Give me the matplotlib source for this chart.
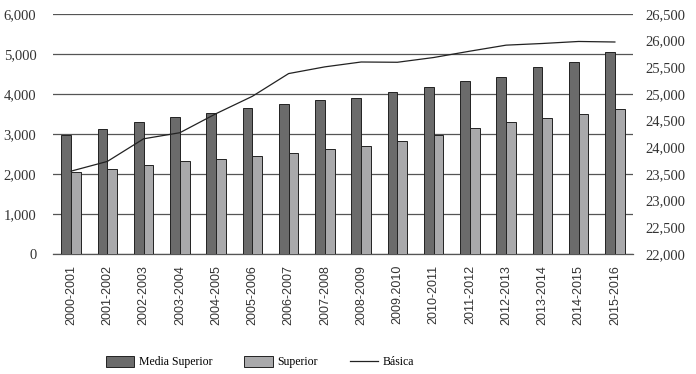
import matplotlib
matplotlib.use("Agg")
import matplotlib.pyplot as plt
import numpy as np

categories = ["2000-2001", "2001-2002", "2002-2003", "2003-2004", "2004-2005",
              "2005-2006", "2006-2007", "2007-2008", "2008-2009", "2009.2010",
              "2010-2011", "2011-2012", "2012-2013", "2013-2014", "2014-2015",
              "2015-2016"]
media_superior = [2970, 3135, 3310, 3435, 3535, 3660, 3760, 3845, 3910, 4060,
                  4185, 4335, 4435, 4685, 4810, 5040]
superior = [2055, 2130, 2230, 2330, 2380, 2455, 2530, 2630, 2705, 2830,
            2980, 3160, 3310, 3410, 3510, 3635]
basica = [23554, 23736, 24160, 24274, 24632, 24957, 25383, 25509, 25600, 25595,
          25684, 25803, 25916, 25947, 25985, 25975]
left_ticks = [0, 1000, 2000, 3000, 4000, 5000, 6000]
right_ticks = [22000, 22500, 23000, 23500, 24000, 24500, 25000, 25500, 26000, 26500]

serif = "Liberation Serif"
sans = "Liberation Sans"

fig = plt.figure(figsize=(6.96, 3.74), dpi=100)
ax = fig.add_axes([53/696, 1 - 254/374, 580/696, 240/374])
x = np.arange(len(categories))
w = 0.27
ax.bar(x - w/2, media_superior, width=w, color="#6b6b6b", edgecolor="#222222",
       linewidth=0.7, label="Media Superior", zorder=3)
ax.bar(x + w/2, superior, width=w, color="#a9a9ab", edgecolor="#222222",
       linewidth=0.7, label="Superior", zorder=3)
ax.set_xlim(-0.5, len(categories) - 0.5)
ax.set_ylim(0, 6000)
ax.set_yticks(left_ticks)
ax.set_yticklabels([f"{v:,}" for v in left_ticks], fontfamily=serif, fontsize=10.5, color="#333333")
ax.yaxis.grid(True, color="#555555", linewidth=0.9, zorder=0)
ax.set_axisbelow(True)
for s in ["top", "right", "left"]:
    ax.spines[s].set_visible(False)
ax.spines["bottom"].set_color("#555555")
ax.spines["bottom"].set_linewidth(0.9)
ax.tick_params(axis="both", length=0)
ax.tick_params(axis="y", pad=12)
ax.set_xticks(x)
ax.set_xticklabels(categories, rotation=90, fontfamily=sans, fontsize=9, color="#333333")
ax.tick_params(axis="x", pad=8)

ax2 = ax.twinx()
ax2.plot(x, basica, color="#222222", linewidth=0.9, label="Básica", zorder=4)
ax2.set_ylim(22000, 26500)
ax2.set_yticks(right_ticks)
ax2.set_yticklabels([f"{v:,}" for v in right_ticks], fontfamily=serif, fontsize=10.5, color="#333333")
ax2.tick_params(axis="y", length=0, pad=9)
for s in ["top", "right", "left", "bottom"]:
    ax2.spines[s].set_visible(False)

h1, l1 = ax.get_legend_handles_labels()
h2, l2 = ax2.get_legend_handles_labels()
fig.legend(h1 + h2, l1 + l2, loc="center", bbox_to_anchor=(260/696, 1 - 362/374),
           ncol=3, frameon=False, prop={"family": serif, "size": 8.5},
           handlelength=2.4, handleheight=1.1, columnspacing=2.7, handletextpad=0.4)

fig.savefig("out.png", dpi=100)
